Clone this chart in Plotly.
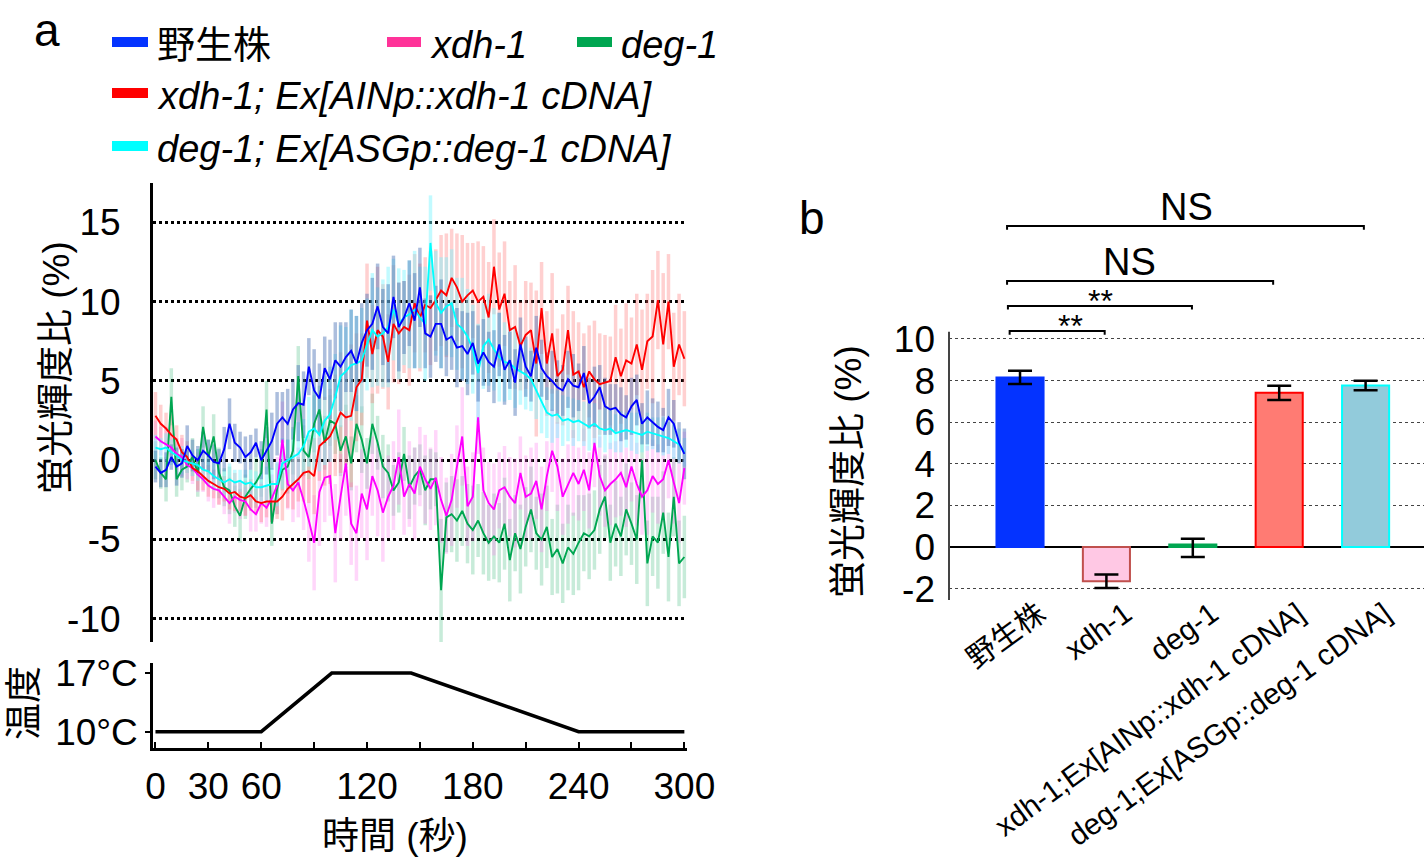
import plotly.graph_objects as go

W, H = 1424, 858

# ---------------- Panel a data (time in s, fluorescence ratio in %) ----------------
time_s = list(range(0, 301, 3))

wt = [-0.4, -0.8, -0.6, 0.2, -0.4, -0.2, 0.9, 0.3, 0.0, 0.6,
      0.3, -0.1, -0.2, 0.7, 2.3, 1.1, 0.8, 0.2, 0.5, 1.1,
      0.0, 0.6, 1.2, 2.3, 2.7, 2.3, 3.2, 3.6, 3.5, 5.9,
      4.4, 3.9, 5.8, 5.1, 6.3, 5.9, 6.5, 6.9, 6.1, 7.4,
      8.2, 8.6, 9.7, 8.4, 8.0, 10.3, 8.4, 9.0, 9.9, 8.8,
      10.9, 8.0, 7.8, 8.6, 8.6, 7.6, 7.8, 7.1, 7.2, 6.7,
      7.4, 6.1, 6.8, 6.2, 5.9, 7.3, 5.7, 6.3, 4.9, 7.3,
      5.9, 5.3, 7.1, 5.8, 5.3, 5.0, 4.6, 4.4, 5.1, 4.7,
      4.6, 5.5, 3.6, 4.0, 4.6, 3.4, 3.2, 3.3, 2.9, 2.7,
      3.4, 3.8, 2.3, 2.7, 2.4, 2.1, 1.9, 2.7, 2.3, 1.1,
      0.4]
wt_err = [1.0, 0.9, 1.1, 0.8, 1.2, 0.9, 1.3, 1.0, 0.9, 1.2,
          1.0, 1.1, 0.9, 1.4, 1.6, 1.2, 1.0, 1.3, 1.1, 0.9,
          1.2, 1.5, 1.8, 2.0, 1.6, 2.2, 1.9, 2.4, 2.1, 1.8,
          2.6, 2.2, 2.0, 2.5, 2.4, 2.8, 2.2, 2.6, 3.0, 2.5,
          2.3, 2.9, 2.7, 2.4, 3.1, 2.6, 2.8, 2.3, 2.7, 3.0,
          2.5, 2.2, 2.6, 2.4, 2.8, 2.3, 2.1, 2.5, 2.2, 2.6,
          2.0, 2.4, 2.1, 1.9, 2.3, 2.0, 2.2, 1.8, 2.1, 1.7,
          1.9, 1.6, 2.0, 1.8, 1.5, 1.9, 1.7, 1.6, 1.8, 2.0,
          1.5, 1.7, 1.6, 1.9, 1.4, 1.8, 1.6, 1.5, 1.7, 1.4,
          1.8, 1.6, 1.3, 1.7, 1.5, 1.6, 1.4, 1.8, 1.5, 1.3,
          1.6]

xdh_rescue = [2.8, 2.3, 2.0, 1.6, 1.3, 0.5, 0.2, -0.5, -0.7, -1.0,
              -1.3, -1.5, -1.7, -1.8, -2.1, -2.0, -2.3, -2.4, -2.2, -2.6,
              -2.7, -2.6, -2.6, -2.6, -2.3, -1.8, -1.5, -1.2, -0.8, -0.7,
              -1.0, 0.9, 1.2, 1.5, 2.2, 3.0, 2.7, 2.8, 4.6, 5.1,
              8.8, 6.7, 8.2, 7.8, 6.2, 8.6, 8.0, 8.4, 8.2, 9.9,
              9.0, 9.8, 9.6, 10.1, 10.7, 10.4, 11.5, 10.9, 10.0, 10.4,
              10.7, 10.0, 10.3, 9.0, 12.2, 9.5, 10.5, 8.2, 8.4, 7.2,
              7.9, 8.2, 6.1, 9.6, 6.1, 8.0, 5.3, 5.7, 8.2, 5.4,
              5.6, 4.6, 5.6, 5.1, 4.8, 4.9, 5.0, 6.5, 5.3, 6.3,
              6.1, 7.3, 5.7, 7.5, 7.8, 10.1, 7.3, 10.0, 5.9, 7.3,
              6.4]
xdh_rescue_err = [1.5, 1.2, 1.0, 1.3, 0.9, 1.1, 1.0, 0.8, 1.2, 0.9,
                  1.0, 0.9, 1.1, 0.8, 1.0, 1.2, 0.9, 1.1, 1.0, 0.8,
                  1.2, 1.0, 1.3, 1.1, 1.5, 1.2, 1.6, 1.4, 1.8, 2.0,
                  2.4, 2.2, 2.8, 3.0, 3.2, 3.8, 3.0, 4.5, 3.4, 2.9,
                  3.6, 3.1, 4.0, 3.3, 3.0, 3.7, 3.2, 2.9, 3.5, 3.1,
                  3.4, 3.0, 3.6, 3.2, 3.5, 3.9, 3.1, 3.4, 4.2, 3.3,
                  3.0, 3.8, 3.2, 3.5, 3.0, 3.6, 3.3, 3.1, 3.9, 2.8,
                  3.4, 3.0, 4.6, 2.9, 3.3, 3.8, 3.0, 3.5, 2.8, 4.0,
                  3.1, 3.4, 2.9, 3.7, 3.2, 3.0, 2.8, 3.3, 3.0, 3.6,
                  2.9, 3.2, 3.8, 3.0, 4.2, 3.1, 4.5, 3.0, 3.4, 3.2,
                  3.0]

deg_rescue = [0.8, 0.7, 0.8, 0.5, 0.3, 0.0, -0.1, -0.2, -0.3, -0.6,
              -0.7, -1.0, -1.2, -1.4, -1.2, -1.4, -1.3, -1.5, -1.4, -1.7,
              -1.7, -1.6, -1.5, -1.5, -0.2, 0.0, 0.2, 0.4, 0.9, 1.8,
              2.0, 1.6, 2.5, 2.9, 4.0, 5.3, 5.6, 6.0, 6.1, 6.3,
              7.3, 8.2, 7.8, 8.0, 8.4, 9.5, 8.6, 9.0, 9.2, 9.5,
              9.0, 8.6, 13.7, 9.9, 9.3, 9.7, 9.9, 8.6, 8.3, 7.8,
              7.0, 5.5, 7.2, 7.6, 7.0, 6.5, 6.2, 6.1, 5.8, 5.6,
              5.4, 5.1, 4.4, 3.6, 3.0, 2.8, 2.9, 2.5, 2.6, 2.4,
              2.5, 2.3, 2.1, 2.3, 2.0, 1.9, 2.0, 1.7, 1.8, 1.9,
              1.8, 1.7, 1.6, 1.8, 1.7, 1.6, 1.5, 1.4, 1.2, 1.0,
              0.5]
deg_rescue_err = [0.8, 0.7, 0.9, 0.8, 0.6, 0.9, 0.7, 0.8, 1.0, 0.7,
                  0.8, 0.9, 0.7, 0.8, 1.0, 0.8, 0.7, 0.9, 0.8, 1.0,
                  0.9, 1.2, 1.0, 1.4, 1.6, 1.3, 1.8, 2.0, 1.7, 2.2,
                  2.6, 2.3, 2.8, 3.0, 2.7, 3.2, 2.8, 3.5, 3.0, 3.3,
                  2.9, 3.6, 3.1, 3.4, 3.8, 3.2, 3.5, 3.0, 3.4, 3.7,
                  3.2, 3.6, 3.0, 3.3, 3.5, 3.1, 3.4, 2.9, 3.2, 3.0,
                  2.8, 3.1, 2.7, 2.9, 2.6, 2.8, 2.5, 2.3, 2.5, 2.1,
                  2.2, 2.0, 1.8, 1.9, 1.6, 1.7, 1.5, 1.6, 1.4, 1.5,
                  1.3, 1.4, 1.5, 1.3, 1.2, 1.4, 1.3, 1.2, 1.3, 1.1,
                  1.2, 1.3, 1.1, 1.2, 1.0, 1.1, 1.2, 1.0, 1.1, 1.0,
                  0.9]

xdh1 = [1.5, 1.2, 1.0, 0.8, 0.4, 0.2, -0.3, -0.5, -0.9, -1.2,
        -1.6, -1.8, -1.9, -2.3, -2.7, -2.3, -2.5, -2.6, -3.1, -3.4,
        -2.7, -3.0, -2.4, -1.6, 1.3, -1.5, -1.9, -1.4, -2.5, -3.8,
        -5.2, -2.0, -1.1, -1.0, -4.6, -2.3, -0.2, -4.0, -4.6, -2.1,
        -3.1, -1.0, -1.9, -3.3, -2.3, -1.6, 0.2, -2.3, -1.5, -2.1,
        -0.4, -1.2, -1.8, -1.1, -2.5, -3.5, -2.5, -0.4, 1.5, -2.9,
        -2.3, 2.7, -1.9, -2.7, -3.1, -1.9, -1.7, -2.3, -2.7, -0.8,
        -2.3, -2.1, -1.3, -3.1, -1.0, 0.6, -0.4, -2.3, -1.5, -0.8,
        -1.5, -0.6, -1.9, 1.1, -1.0, -1.9, -1.5, -1.2, -0.8, -1.7,
        -0.4, -1.5, -2.3, -1.9, -1.0, -1.5, -1.2, 0.0, -1.4, -2.7,
        -0.5]
xdh1_err = [1.0, 0.9, 1.1, 0.8, 1.0, 1.2, 0.9, 1.0, 1.1, 0.8,
            1.0, 1.2, 0.9, 1.1, 1.3, 1.0, 1.2, 0.9, 1.4, 1.1,
            1.3, 1.2, 1.5, 1.8, 2.4, 1.6, 2.0, 2.2, 1.9, 2.6,
            3.0, 3.4, 2.8, 2.5, 3.1, 2.7, 3.3, 2.6, 3.0, 2.8,
            3.2, 2.5, 2.9, 3.1, 2.6, 2.8, 3.0, 2.4, 2.7, 2.9,
            2.5, 2.8, 2.6, 3.0, 2.7, 2.4, 2.9, 2.6, 3.1, 2.5,
            2.8, 2.3, 2.7, 2.6, 2.9, 2.4, 2.6, 2.5, 2.8, 2.3,
            2.6, 2.9, 2.4, 2.7, 2.2, 2.6, 2.8, 2.4, 2.5, 2.7,
            2.3, 2.6, 2.4, 2.8, 2.5, 2.3, 2.6, 2.4, 2.7, 2.5,
            2.2, 2.6, 2.4, 2.8, 2.3, 2.5, 2.7, 2.4, 2.6, 2.5,
            2.3]

deg1 = [0.0, -0.8, -1.2, 4.0, -1.2, -0.6, -0.4, 0.2, -0.8, 2.1,
        0.2, 1.5, -0.8, -1.7, -1.9, -2.9, -3.5, -2.3, -1.8, -1.4,
        -0.8, 3.2, -4.0, -1.8, -0.6, -0.4, 0.6, 5.3, 0.6, 0.2,
        2.3, 3.2, 1.1, 2.5, 2.3, 0.6, 1.5, -0.2, 2.3, 1.3,
        -0.2, 2.3, 1.1, -0.4, -0.8, -1.9, -1.4, 0.4, -1.7, -1.0,
        -0.6, -1.9, -1.2, -1.2, -8.2, -3.6, -3.4, -3.8, -3.2, -4.0,
        -4.4, -3.8, -4.6, -5.2, -4.8, -5.2, -4.0, -6.3, -4.6, -5.6,
        -4.2, -3.1, -4.6, -5.0, -4.2, -6.1, -5.6, -6.5, -5.5, -5.9,
        -5.2, -4.6, -4.8, -4.4, -3.1, -2.3, -5.2, -4.0, -4.8, -3.1,
        -4.0, -5.0, 0.0, -6.5, -4.8, -5.2, -3.3, -6.1, -2.3, -6.5,
        -6.1]
deg1_err = [1.2, 1.0, 1.4, 1.8, 1.1, 1.3, 1.0, 1.2, 1.5, 1.3,
            1.1, 1.4, 1.6, 1.2, 1.5, 1.3, 1.7, 1.4, 1.2, 1.6,
            1.5, 1.8, 1.4, 1.6, 1.3, 1.7, 1.5, 1.9, 1.6, 1.4,
            1.8, 1.5, 1.7, 1.6, 1.9, 1.6, 2.0, 1.7, 1.8, 2.1,
            1.6, 1.9, 1.7, 2.0, 1.8, 1.6, 1.9, 1.7, 2.0, 1.8,
            1.6, 2.2, 1.9, 1.7, 4.5, 2.2, 2.4, 2.6, 2.2, 2.5,
            2.8, 2.3, 2.6, 2.4, 2.7, 2.5, 2.9, 2.6, 2.4, 2.8,
            2.5, 2.7, 2.3, 2.9, 2.6, 2.4, 2.8, 2.5, 2.7, 2.6,
            3.0, 2.4, 2.7, 2.5, 2.8, 2.6, 2.4, 2.7, 2.5, 2.9,
            2.6, 2.8, 2.4, 2.7, 2.5, 2.9, 2.6, 2.8, 2.5, 2.7,
            2.6]

# temperature program
temp_t = [0, 60, 100, 145, 240, 300]
temp_c = [10, 10, 17, 17, 10, 10]

main_yticks = [-10, -5, 0, 5, 10, 15]
time_ticks = [0, 30, 60, 90, 120, 150, 180, 210, 240, 270, 300]
time_ticktext = ["0", "30", "60", "", "120", "", "180", "", "240", "", "300"]

# ---------------- Panel b data ----------------
strains = ["野生株", "xdh-1", "deg-1", "xdh-1;Ex[AINp::xdh-1 cDNA]", "deg-1;Ex[ASGp::deg-1 cDNA]"]
bar_mean = [8.15, -1.65, 0.12, 7.41, 7.76]
bar_err_up = [0.32, 0.32, 0.28, 0.34, 0.23]
bar_err_down = [0.32, 0.32, 0.60, 0.34, 0.23]
bar_fill = ["#0433ff", "#ffc8e4", "#00a651", "#ff7b73", "#92cbdb"]
bar_edge = ["#0433ff", "#c0504d", "#00a651", "#ff0000", "#00ffff"]
bar_yticks = [-2, 0, 2, 4, 6, 8, 10]

# significance comparisons: (start, end, line level, label, label x)
sig_pairs = [(-0.12, 0.98, 10.38, "**", 0.58),
             (-0.14, 1.99, 11.59, "**", 0.93),
             (-0.15, 2.93, 12.79, "NS", 1.27),
             (-0.15, 3.98, 15.43, "NS", 1.93)]

FONT = "Liberation Sans, Arial, Noto Sans CJK JP, sans-serif"

def px_x(p):
    return p / W

def px_y(p):
    return 1 - p / H

fig = go.Figure()

series = [
    ("deg-1", deg1, deg1_err, "#00a651", "rgba(0,166,80,0.22)"),
    ("xdh-1", xdh1, xdh1_err, "#ff00ff", "rgba(255,120,240,0.30)"),
    ("xdh-1 rescue", xdh_rescue, xdh_rescue_err, "#ff0000", "rgba(255,110,110,0.32)"),
    ("deg-1 rescue", deg_rescue, deg_rescue_err, "#00ffff", "rgba(120,245,255,0.45)"),
    ("野生株", wt, wt_err, "#0000ff", "rgba(70,110,180,0.45)"),
]

# error streaks first (below every line)
for name, ys, es, lc, ec in series:
    fig.add_trace(go.Scatter(
        x=time_s, y=ys, mode="lines", line=dict(width=0, color=ec),
        error_y=dict(type="data", array=es, color=ec, thickness=3.5, width=0),
        hoverinfo="skip", showlegend=False, xaxis="x", yaxis="y"))

for name, ys, es, lc, ec in series:
    fig.add_trace(go.Scatter(
        x=time_s, y=ys, mode="lines", line=dict(width=1.9, color=lc),
        name=name, showlegend=False, xaxis="x", yaxis="y"))

# temperature trace
fig.add_trace(go.Scatter(x=temp_t, y=temp_c, mode="lines", line=dict(color="black", width=3.5),
                         showlegend=False, xaxis="x2", yaxis="y2"))

# bars
fig.add_trace(go.Bar(
    x=list(range(len(strains))), y=bar_mean, width=0.545,
    marker=dict(color=bar_fill, line=dict(color=bar_edge, width=2)),
    error_y=dict(type="data", symmetric=False, array=bar_err_up, arrayminus=bar_err_down,
                 color="black", thickness=2.5, width=12),
    showlegend=False, xaxis="x3", yaxis="y3"))

xdom = [px_x(153), px_x(687)]
tick_font = dict(family=FONT, size=37, color="black")

fig.update_layout(
    width=W, height=H, margin=dict(l=0, r=0, t=0, b=0, autoexpand=False),
    paper_bgcolor="white", plot_bgcolor="rgba(0,0,0,0)",
    font=dict(family=FONT, color="black"),
    showlegend=False,
    xaxis=dict(domain=xdom, range=[-1.4, 301.5], anchor="y", showticklabels=False, automargin=False,
               showgrid=False, zeroline=False, showline=False, ticks=""),
    yaxis=dict(domain=[px_y(642), px_y(183)], range=[-11.46, 17.48], anchor="x", automargin=False,
               tickvals=main_yticks, ticktext=[str(v) for v in main_yticks],
               showgrid=True, gridcolor="black", griddash="dot", gridwidth=2.5,
               zeroline=False, showline=True, linecolor="black", linewidth=3,
               ticks="", ticklabelstandoff=22, tickfont=tick_font),
    xaxis2=dict(domain=xdom, range=[-1.4, 301.5], anchor="y2", automargin=False,
                tickvals=time_ticks, ticktext=time_ticktext, ticks="inside", ticklen=6,
                tickwidth=1.5, tickcolor="black", showline=True, linecolor="black", linewidth=2.5,
                showgrid=False, zeroline=False, ticklabelstandoff=4, tickfont=tick_font),
    yaxis2=dict(domain=[px_y(748), px_y(663)], range=[8.05, 18.2], anchor="x2", automargin=False,
                tickvals=[10, 17], ticktext=["10°C", "17°C"], ticks="outside", ticklen=5,
                tickwidth=1.5, tickcolor="black", showline=True, linecolor="black", linewidth=2.5,
                showgrid=False, zeroline=False, tickfont=tick_font),
    xaxis3=dict(domain=[px_x(949), 1.0], range=[-0.822, 4.676], anchor="y3", automargin=False,
                tickvals=[i + 0.22 for i in range(len(strains))], ticktext=strains, tickangle=-36,
                ticks="", showline=False, showgrid=False, zeroline=False, ticklabelstandoff=-10,
                tickfont=dict(family=FONT, size=29.5, color="black")),
    yaxis3=dict(domain=[px_y(600), px_y(200)], range=[-2.55, 16.68], anchor="x3", automargin=False,
                tickvals=bar_yticks, ticktext=[str(v) for v in bar_yticks],
                showgrid=True, gridcolor="#444", griddash="dot", gridwidth=1,
                zeroline=True, zerolinecolor="black", zerolinewidth=1.5,
                showline=False, ticks="", ticklabelstandoff=13, tickfont=tick_font),
)

shapes = []
# bar chart y axis line
shapes.append(dict(type="line", xref="paper", yref="y3", x0=px_x(949), x1=px_x(949),
                   y0=-2.55, y1=10.35, line=dict(color="#444", width=2)))
# significance brackets
for x0, x1, lvl, lab, lx in sig_pairs:
    shapes.append(dict(type="path", xref="x3", yref="y3",
                       path=f"M {x0},{lvl-0.18} L {x0},{lvl} L {x1},{lvl} L {x1},{lvl-0.18}",
                       line=dict(color="black", width=2)))

# legend swatches
legend_items = [
    (112, 148, 42, "#0433ff", "野生株", False),
    (387, 421, 42, "#ff3399", "xdh-1", True),
    (577, 612, 42, "#00a651", "deg-1", True),
    (112, 148, 93, "#ff0000", "xdh-1; Ex[AINp::xdh-1 cDNA]", True),
    (112, 148, 146, "#00ffff", "deg-1; Ex[ASGp::deg-1 cDNA]", True),
]
annotations = []
for x0, x1, yc, col, label, ital in legend_items:
    shapes.append(dict(type="rect", xref="paper", yref="paper", x0=px_x(x0), x1=px_x(x1),
                       y0=px_y(yc + 5), y1=px_y(yc - 5), fillcolor=col, line=dict(width=0)))
    annotations.append(dict(xref="paper", yref="paper", x=px_x(x1 + 7), y=px_y(yc + 3),
                            xanchor="left", yanchor="middle", showarrow=False,
                            text=(f"<i>{label}</i>" if ital else label),
                            font=dict(family=FONT, size=38, color="black")))

for x0, x1, lvl, lab, lx in sig_pairs:
    if lab == "NS":
        annotations.append(dict(xref="x3", yref="y3", x=lx, y=lvl + 0.91,
                                xanchor="center", yanchor="middle", showarrow=False, text=lab,
                                font=dict(family=FONT, size=38, color="black")))
    else:
        annotations.append(dict(xref="x3", yref="y3", x=lx, y=lvl + 0.25,
                                xanchor="center", yanchor="middle", showarrow=False, text=lab,
                                font=dict(family=FONT, size=32, color="black")))

annotations += [
    dict(xref="paper", yref="paper", x=px_x(47), y=px_y(30), text="a", showarrow=False,
         xanchor="center", yanchor="middle", font=dict(family=FONT, size=46, color="black")),
    dict(xref="paper", yref="paper", x=px_x(812), y=px_y(218), text="b", showarrow=False,
         xanchor="center", yanchor="middle", font=dict(family=FONT, size=46, color="black")),
    dict(xref="paper", yref="paper", x=px_x(56), y=px_y(368), text="蛍光輝度比 (%)", textangle=-90,
         showarrow=False, xanchor="center", yanchor="middle", font=dict(family=FONT, size=37, color="black")),
    dict(xref="paper", yref="paper", x=px_x(24), y=px_y(703), text="温度", textangle=-90,
         showarrow=False, xanchor="center", yanchor="middle", font=dict(family=FONT, size=37, color="black")),
    dict(xref="paper", yref="paper", x=px_x(395), y=px_y(836), text="時間 (秒)",
         showarrow=False, xanchor="center", yanchor="middle", font=dict(family=FONT, size=37, color="black")),
    dict(xref="paper", yref="paper", x=px_x(848), y=px_y(472), text="蛍光輝度比 (%)", textangle=-90,
         showarrow=False, xanchor="center", yanchor="middle", font=dict(family=FONT, size=37, color="black")),
]

fig.update_layout(shapes=shapes, annotations=annotations)

fig.write_html("out.html", include_plotlyjs=True, full_html=True,
               config={"displayModeBar": False},
               post_script="document.body.style.margin='0';document.body.style.overflow='hidden';")
